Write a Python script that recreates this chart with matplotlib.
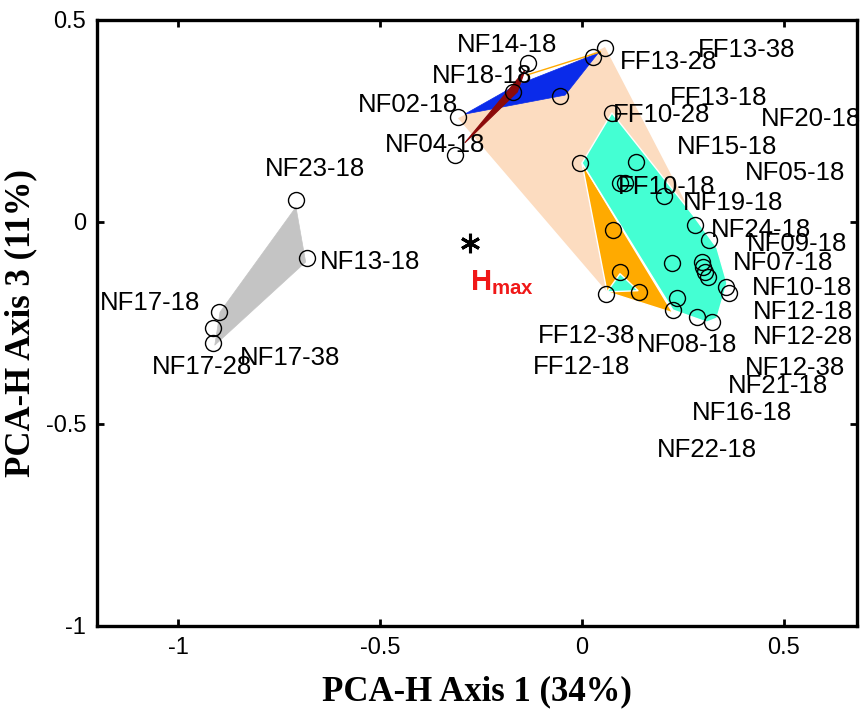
import matplotlib
matplotlib.use('Agg')
import matplotlib.pyplot as plt
from matplotlib.patches import Polygon

plt.rcParams['font.family'] = ['Liberation Sans', 'DejaVu Sans']
plt.rcParams['mathtext.fontset'] = 'custom'
plt.rcParams['mathtext.rm'] = 'Liberation Sans'
plt.rcParams['mathtext.bf'] = 'Liberation Sans:bold'

# ---- sample scores (axis 1, axis 3) ----
pts_x = [-0.708, -0.681, -0.899, -0.913, -0.913,
         -0.134, -0.171, -0.054, -0.307, -0.314, 0.027, 0.057,
         0.074, -0.005, 0.134, 0.094, 0.106, 0.203, 0.280, 0.314, 0.077,
         0.094, 0.059, 0.141, 0.223, 0.297, 0.300, 0.304, 0.312, 0.235,
         0.225, 0.285, 0.322, 0.356, 0.364]
pts_y = [0.054, -0.089, -0.223, -0.262, -0.300,
         0.394, 0.322, 0.312, 0.260, 0.166, 0.408, 0.431,
         0.270, 0.146, 0.149, 0.097, 0.097, 0.064, -0.007, -0.045, -0.020,
         -0.124, -0.178, -0.173, -0.101, -0.099, -0.111, -0.124, -0.136, -0.188,
         -0.218, -0.235, -0.248, -0.161, -0.176]

# ---- group hulls ----
peach_x = [-0.307, 0.057, 0.285, 0.062]
peach_y = [0.257, 0.433, -0.007, -0.173]
blue_x = [-0.290, -0.166, 0.040, -0.042]
blue_y = [0.267, 0.337, 0.418, 0.314]
darkred_x = [-0.290, -0.141, -0.160]
darkred_y = [0.196, 0.376, 0.322]
gray_x = [-0.708, -0.684, -0.909, -0.896]
gray_y = [0.037, -0.099, -0.305, -0.223]
orange_x = [0.000, 0.225, 0.062]
orange_y = [0.146, -0.225, -0.173]
teal_x = [0.074, 0.275, 0.334, 0.359, 0.334, 0.309, 0.225, 0.000]
teal_y = [0.270, 0.017, -0.064, -0.151, -0.238, -0.248, -0.218, 0.146]
teal2_x = [0.062, 0.094, 0.139]
teal2_y = [-0.173, -0.128, -0.170]
orange_line_x = [-0.136, 0.045]
orange_line_y = [0.364, 0.421]

# ---- H max ----
hmax_x, hmax_y = -0.277, -0.052

# ---- labels ----
lab_text = ['NF14-18', 'NF18-18', 'NF02-18', 'NF04-18', 'FF13-28', 'FF13-38',
            'FF13-18', 'FF10-28', 'NF20-18', 'NF15-18', 'NF05-18', 'FF10-18',
            'NF19-18', 'NF24-18', 'NF09-18', 'NF07-18', 'NF10-18', 'NF12-18',
            'NF12-28', 'NF12-38', 'NF21-18', 'NF16-18', 'NF22-18', 'FF12-38',
            'FF12-18', 'NF08-18', 'NF23-18', 'NF13-18', 'NF17-18', 'NF17-28',
            'NF17-38']
lab_x = [-0.186, -0.248, -0.431, -0.364, 0.215, 0.408,
         0.337, 0.196, 0.566, 0.359, 0.527, 0.210,
         0.374, 0.443, 0.532, 0.498, 0.545, 0.547,
         0.547, 0.527, 0.485, 0.396, 0.309, 0.012,
         0.000, 0.260, -0.661, -0.525, -1.069, -0.941,
         -0.723]
lab_y = [0.438, 0.361, 0.290, 0.191, 0.396, 0.426,
         0.307, 0.265, 0.255, 0.186, 0.121, 0.087,
         0.047, -0.020, -0.054, -0.101, -0.163, -0.223,
         -0.285, -0.361, -0.406, -0.473, -0.564, -0.282,
         -0.359, -0.304, 0.131, -0.099, -0.200, -0.359,
         -0.337]

W, H = 861, 713
fig = plt.figure(figsize=(W / 100, H / 100), dpi=100)
x0, x1 = -1.2, 0.68
ax = fig.add_axes([97.2 / W, 1 - 626 / H, (856.7 - 97.2) / W, (626 - 20) / H])

def poly(xs, ys, color, z, edge='white', lw=1.0):
    ax.add_patch(Polygon(list(zip(xs, ys)), closed=True, facecolor=color,
                         edgecolor=edge, linewidth=lw, zorder=z))

poly(peach_x, peach_y, '#FCDCC0', 1, edge='none', lw=0)
poly(blue_x, blue_y, '#0A2BEA', 2, edge='#0A2BEA', lw=0.5)
ax.plot(orange_line_x, orange_line_y, color='#FFAA00', lw=1.0, zorder=2.5)
poly(darkred_x, darkred_y, '#8B0A0A', 3, edge='#8B0A0A', lw=0.8)
poly(gray_x, gray_y, '#C4C4C4', 1, edge='#C4C4C4', lw=0.5)
poly(orange_x, orange_y, '#FFAA00', 2)
poly(teal_x, teal_y, '#44FFD3', 3)
poly(teal2_x, teal2_y, '#44FFD3', 4)

ax.plot(pts_x, pts_y, linestyle='none', marker='o', ms=11.5, mfc='none',
        mec='black', mew=1.0, zorder=6)
ax.plot([hmax_x], [hmax_y], linestyle='none', marker=(6, 2, 0), ms=14,
        mec='black', mew=2.2, zorder=6)
ax.text(hmax_x + 0.078, hmax_y - 0.098, r'$\mathbf{H_{max}}$', color='#F01818',
        fontsize=21, ha='center', va='center', zorder=7)

for t, lx, ly in zip(lab_text, lab_x, lab_y):
    ax.text(lx, ly, t, fontsize=18.5, ha='center', va='center', zorder=7)

ax.set_xlim(x0, x1)
ax.set_ylim(-1, 0.5)
ax.set_xticks([-1, -0.5, 0, 0.5])
ax.set_xticklabels(['-1', '-0.5', '0', '0.5'])
ax.set_yticks([-1, -0.5, 0, 0.5])
ax.set_yticklabels(['-1', '-0.5', '0', '0.5'])
ax.tick_params(direction='in', length=5, width=2, labelsize=17,
               top=True, right=True, pad=8)
for s in ax.spines.values():
    s.set_linewidth(2.4)

ax.set_xlabel('PCA-H Axis 1 (34%)', family='Liberation Serif', fontweight='bold',
              fontsize=25, labelpad=12)
ax.set_ylabel('PCA-H Axis 3 (11%)', family='Liberation Serif', fontweight='bold',
              fontsize=25, labelpad=6)

fig.savefig('out.png', dpi=100)
